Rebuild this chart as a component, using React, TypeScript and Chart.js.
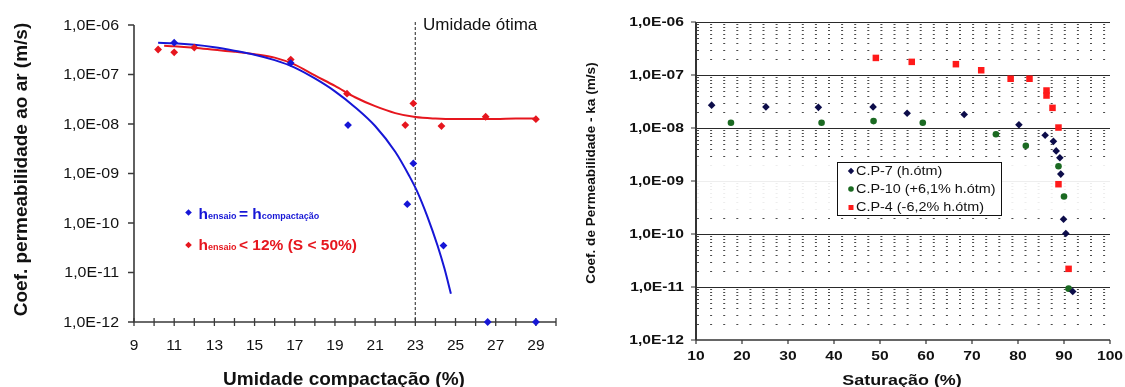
import React, { useEffect, useRef } from 'react';
import { Chart, registerables } from 'chart.js';

Chart.register(...registerables);

const FONT = '"Liberation Sans", Arial, Helvetica, sans-serif';

// ---------- Left panel: k vs. Umidade compactação ----------
const leftBlueX = [11, 16.8, 19.65, 22.9, 22.6, 24.4, 26.6, 29];
const leftBlueK = [4.4e-7, 1.7e-7, 9.5e-9, 1.6e-9, 2.4e-10, 3.5e-11, 1e-12, 1e-12];
const leftRedX = [10.2, 11, 12, 16.8, 19.6, 22.5, 22.9, 24.3, 26.5, 29];
const leftRedK = [3.2e-7, 2.8e-7, 3.5e-7, 2.0e-7, 4.1e-8, 9.5e-9, 2.6e-8, 9.1e-9, 1.4e-8, 1.25e-8];
const blueFitX = [10.2, 11, 12, 13, 14, 15, 16, 17, 18, 19, 20, 21, 22, 22.7, 23.1, 23.6, 24.1, 24.45, 24.77];
const blueFitK = [4.37e-7, 4.27e-7, 3.98e-7, 3.55e-7, 3.02e-7, 2.51e-7, 1.95e-7, 1.38e-7, 8.32e-8, 4.57e-8, 2.19e-8, 9.12e-9, 2.75e-9, 8.91e-10, 4.27e-10, 1.35e-10, 3.55e-11, 1.2e-11, 3.72e-12];
const redFitX = [10.5, 11, 12, 13, 14, 15, 16, 17, 18, 19, 20, 21, 22, 23, 24, 25, 26, 27, 28, 29];
const redFitK = [3.8e-7, 3.72e-7, 3.47e-7, 3.16e-7, 2.88e-7, 2.57e-7, 2.19e-7, 1.58e-7, 9.55e-8, 5.89e-8, 3.47e-8, 2.29e-8, 1.66e-8, 1.38e-8, 1.29e-8, 1.26e-8, 1.26e-8, 1.26e-8, 1.29e-8, 1.29e-8];
const leftXTicks = [9, 11, 13, 15, 17, 19, 21, 23, 25, 27, 29];
const leftXMinorTicks = [9, 10, 11, 12, 13, 14, 15, 16, 17, 18, 19, 20, 21, 22, 23, 24, 25, 26, 27, 28, 29, 30];
const optimumMoisture = 23;
const optimumLabel = 'Umidade ótima';
const leftXTitle = 'Umidade compactação (%)';
const leftYTitle = 'Coef. permeabilidade ao ar (m/s)';

// ---------- Shared y ticks ----------
const yDecades = [1e-12, 1e-11, 1e-10, 1e-9, 1e-8, 1e-7, 1e-6];
const yTickLabels = ['1,0E-12', '1,0E-11', '1,0E-10', '1,0E-09', '1,0E-08', '1,0E-07', '1,0E-06'];
const minorMultipliers = [2, 3, 4, 5, 6, 7, 8, 9];

// ---------- Right panel: k vs. Saturação ----------
const cp7X = [13.4, 25.2, 36.6, 48.5, 55.9, 68.3, 80.2, 85.9, 87.7, 88.3, 89.1, 89.3, 89.9, 90.4, 91.9];
const cp7K = [2.7e-8, 2.5e-8, 2.45e-8, 2.5e-8, 1.9e-8, 1.8e-8, 1.15e-8, 7.3e-9, 5.6e-9, 3.7e-9, 2.75e-9, 1.35e-9, 1.9e-10, 1.02e-10, 8.2e-12];
const cp10X = [17.6, 37.3, 48.6, 59.3, 75.2, 81.7, 88.8, 90.0, 91.0];
const cp10K = [1.26e-8, 1.26e-8, 1.35e-8, 1.26e-8, 7.6e-9, 4.6e-9, 1.9e-9, 5.1e-10, 9.3e-12];
const cp4X = [49.1, 56.9, 66.5, 72.0, 78.4, 82.5, 86.2, 86.2, 87.5, 88.8, 88.8, 91.0];
const cp4K = [2.1e-7, 1.77e-7, 1.6e-7, 1.23e-7, 8.5e-8, 8.5e-8, 5.1e-8, 4.1e-8, 2.4e-8, 1.02e-8, 8.7e-10, 2.2e-11];
const rightXTicks = [10, 20, 30, 40, 50, 60, 70, 80, 90, 100];
const rightSeriesLabels = ['C.P-7 (h.ótm)', 'C.P-10 (+6,1% h.ótm)', 'C.P-4 (-6,2% h.ótm)'];
const rightXTitle = 'Saturação (%)';
const rightYTitle = 'Coef. de Permeabilidade - ka (m/s)';

const BLUE = '#1616d6';
const RED = '#e6161e';
const NAVY = '#0d0d4a';
const GREEN = '#1b6a22';
const SQRED = '#ff1a1a';

const toXY = (xs: number[], ys: number[]) => xs.map((x, i) => ({ x, y: ys[i] }));

function drawText(ctx: CanvasRenderingContext2D, s: string, x: number, y: number, font: string, color: string,
  align: CanvasTextAlign, baseline: CanvasTextBaseline, sx = 1) {
  ctx.save();
  ctx.font = font;
  ctx.fillStyle = color;
  ctx.textAlign = align;
  ctx.textBaseline = baseline;
  ctx.translate(x, y);
  ctx.scale(sx, 1);
  ctx.fillText(s, 0, 0);
  ctx.restore();
}

function drawRotated(ctx: CanvasRenderingContext2D, s: string, cx: number, cy: number, font: string, color: string) {
  ctx.save();
  ctx.translate(cx, cy);
  ctx.rotate(-Math.PI / 2);
  ctx.font = font;
  ctx.fillStyle = color;
  ctx.textAlign = 'center';
  ctx.textBaseline = 'middle';
  ctx.fillText(s, 0, 0);
  ctx.restore();
}

type Run = { t: string; font: string; dy?: number };
function drawRuns(ctx: CanvasRenderingContext2D, runs: Run[], x: number, baseline: number, color: string) {
  ctx.save();
  let cx = x;
  ctx.fillStyle = color;
  ctx.textAlign = 'left';
  ctx.textBaseline = 'alphabetic';
  for (const r of runs) {
    ctx.font = r.font;
    ctx.fillText(r.t, cx, baseline + (r.dy || 0));
    cx += ctx.measureText(r.t).width;
  }
  ctx.restore();
}

function diamond(ctx: CanvasRenderingContext2D, x: number, y: number, r: number, color: string) {
  ctx.save();
  ctx.fillStyle = color;
  ctx.beginPath();
  ctx.moveTo(x, y - r);
  ctx.lineTo(x + r, y);
  ctx.lineTo(x, y + r);
  ctx.lineTo(x - r, y);
  ctx.closePath();
  ctx.fill();
  ctx.restore();
}

const leftDecor = {
  id: 'leftDecor',
  beforeDatasetsDraw(chart: any) {
    const ctx: CanvasRenderingContext2D = chart.ctx;
    const xs = chart.scales.x;
    const ys = chart.scales.y;
    const a = chart.chartArea;
    ctx.save();
    const xo = xs.getPixelForValue(optimumMoisture);
    ctx.strokeStyle = '#555';
    ctx.lineWidth = 1.3;
    ctx.setLineDash([3, 2]);
    ctx.beginPath();
    ctx.moveTo(xo, a.top - 3);
    ctx.lineTo(xo, a.bottom);
    ctx.stroke();
    ctx.setLineDash([]);
    ctx.strokeStyle = '#3a3a3a';
    ctx.lineWidth = 1.6;
    ctx.beginPath();
    ctx.moveTo(a.left, a.top);
    ctx.lineTo(a.left, a.bottom);
    ctx.lineTo(a.right, a.bottom);
    ctx.stroke();
    ctx.lineWidth = 1.3;
    ctx.beginPath();
    for (const v of yDecades) {
      const py = ys.getPixelForValue(v);
      ctx.moveTo(a.left - 6, py);
      ctx.lineTo(a.left, py);
    }
    for (const v of leftXMinorTicks) {
      const px = xs.getPixelForValue(v);
      ctx.moveTo(px, a.bottom - 4);
      ctx.lineTo(px, a.bottom + 4);
    }
    ctx.stroke();
    ctx.restore();
  },
  afterDraw(chart: any) {
    const ctx: CanvasRenderingContext2D = chart.ctx;
    const xs = chart.scales.x;
    const ys = chart.scales.y;
    yDecades.forEach((v, i) => {
      drawText(ctx, yTickLabels[i], 119, ys.getPixelForValue(v) + 0.5, `14.5px ${FONT}`, '#111', 'right', 'middle', 1.1);
    });
    leftXTicks.forEach((v) => {
      drawText(ctx, String(v), xs.getPixelForValue(v), 346, `15.5px ${FONT}`, '#111', 'center', 'middle');
    });
    drawRotated(ctx, leftYTitle, 22, 169.5, `bold 19px ${FONT}`, '#111');
    drawText(ctx, leftXTitle, 344, 385, `bold 19px ${FONT}`, '#111', 'center', 'alphabetic');
    drawText(ctx, optimumLabel, 423, 30, `17px ${FONT}`, '#111', 'left', 'alphabetic');
    const B = `bold 15.5px ${FONT}`;
    const S = `bold 9px ${FONT}`;
    diamond(ctx, 188.5, 212.5, 3.3, BLUE);
    drawRuns(ctx, [{ t: 'h', font: B }, { t: 'ensaio ', font: S }, { t: '= h', font: B }, { t: 'compactação', font: S }], 198.5, 219, BLUE);
    diamond(ctx, 188.5, 245, 3.3, RED);
    drawRuns(ctx, [{ t: 'h', font: B }, { t: 'ensaio ', font: S }, { t: '< 12% (S < 50%)', font: B }], 198.5, 250, RED);
  },
};

const rightDecor = {
  id: 'rightDecor',
  beforeDatasetsDraw(chart: any) {
    const ctx: CanvasRenderingContext2D = chart.ctx;
    const xs = chart.scales.x;
    const ys = chart.scales.y;
    const a = chart.chartArea;
    ctx.save();
    ctx.lineWidth = 1.2;
    for (let i = 0; i < yDecades.length - 1; i++) {
      for (const m of minorMultipliers) {
        const v = m * yDecades[i];
        const py = Math.round(ys.getPixelForValue(v)) + 0.5;
        const faint = v > 2.5e-10 && v < 2.5e-9;
        ctx.strokeStyle = faint ? '#ededed' : '#4a4a4a';
        ctx.setLineDash([2, 11.1]);
        ctx.lineDashOffset = 0;
        ctx.beginPath();
        ctx.moveTo(a.left + 1, py);
        ctx.lineTo(a.right, py);
        ctx.stroke();
      }
    }
    ctx.setLineDash([]);
    ctx.lineWidth = 1;
    for (const v of yDecades) {
      if (v === yDecades[0]) continue;
      const py = Math.round(ys.getPixelForValue(v)) + 0.5;
      const faint = v > 2.5e-10 && v < 2.5e-9;
      ctx.strokeStyle = faint ? '#eeeeee' : '#2a2a2a';
      ctx.beginPath();
      ctx.moveTo(a.left, py);
      ctx.lineTo(a.right, py);
      ctx.stroke();
    }
    ctx.strokeStyle = '#333';
    ctx.lineWidth = 2;
    ctx.beginPath();
    ctx.moveTo(a.left, a.top);
    ctx.lineTo(a.left, a.bottom);
    ctx.stroke();
    ctx.lineWidth = 1.5;
    ctx.beginPath();
    ctx.moveTo(a.left, a.bottom);
    ctx.lineTo(a.right, a.bottom);
    ctx.stroke();
    ctx.lineWidth = 1.2;
    ctx.beginPath();
    for (const v of yDecades) {
      const py = ys.getPixelForValue(v);
      ctx.moveTo(a.left - 5, py);
      ctx.lineTo(a.left, py);
    }
    for (const v of rightXTicks) {
      const px = xs.getPixelForValue(v);
      ctx.moveTo(px, a.bottom);
      ctx.lineTo(px, a.bottom + 4);
    }
    ctx.stroke();
    ctx.restore();
  },
  afterDraw(chart: any) {
    const ctx: CanvasRenderingContext2D = chart.ctx;
    const xs = chart.scales.x;
    const ys = chart.scales.y;
    yDecades.forEach((v, i) => {
      drawText(ctx, yTickLabels[i], 114, ys.getPixelForValue(v) + 0.5, `bold 12.5px ${FONT}`, '#111', 'right', 'middle', 1.25);
    });
    rightXTicks.forEach((v) => {
      drawText(ctx, String(v), xs.getPixelForValue(v), 357, `bold 12.5px ${FONT}`, '#111', 'center', 'middle', 1.25);
    });
    drawRotated(ctx, rightYTitle, 21, 173, `bold 13.6px ${FONT}`, '#111');
    drawText(ctx, rightXTitle, 332, 385, `bold 14px ${FONT}`, '#111', 'center', 'alphabetic', 1.28);
    ctx.save();
    ctx.fillStyle = '#fff';
    ctx.fillRect(267, 162, 164, 53);
    ctx.strokeStyle = '#111';
    ctx.lineWidth = 1;
    ctx.strokeRect(267.5, 162.5, 164, 53);
    ctx.restore();
    const rows = [171, 189, 207.5];
    diamond(ctx, 281, rows[0], 3.2, NAVY);
    ctx.save();
    ctx.fillStyle = GREEN;
    ctx.beginPath();
    ctx.arc(281, rows[1], 2.8, 0, Math.PI * 2);
    ctx.fill();
    ctx.fillStyle = SQRED;
    ctx.fillRect(278.5, rows[2] - 2.5, 5, 5);
    ctx.restore();
    rightSeriesLabels.forEach((s, i) => {
      drawText(ctx, s, 286, rows[i] + 0.5, `12px ${FONT}`, '#111', 'left', 'middle', 1.2);
    });
  },
};

export default function App() {
  const leftRef = useRef<HTMLCanvasElement | null>(null);
  const rightRef = useRef<HTMLCanvasElement | null>(null);

  useEffect(() => {
    const left = new Chart(leftRef.current as HTMLCanvasElement, {
      type: 'line',
      data: {
        datasets: [
          {
            label: 'hensaio = hcompactação',
            data: toXY(leftBlueX, leftBlueK),
            showLine: false,
            pointStyle: 'rectRot',
            pointRadius: 3.9,
            pointBackgroundColor: BLUE,
            pointBorderColor: BLUE,
            pointBorderWidth: 0,
            borderColor: BLUE,
            order: 0,
            clip: false,
          },
          {
            label: 'hensaio < 12% (S < 50%)',
            data: toXY(leftRedX, leftRedK),
            showLine: false,
            pointStyle: 'rectRot',
            pointRadius: 3.9,
            pointBackgroundColor: RED,
            pointBorderColor: RED,
            pointBorderWidth: 0,
            borderColor: RED,
            order: 0,
            clip: false,
          },
          {
            label: 'ajuste azul',
            data: toXY(blueFitX, blueFitK),
            showLine: true,
            pointRadius: 0,
            borderColor: BLUE,
            borderWidth: 2,
            cubicInterpolationMode: 'monotone',
            fill: false,
            order: 1,
          },
          {
            label: 'ajuste vermelho',
            data: toXY(redFitX, redFitK),
            showLine: true,
            pointRadius: 0,
            borderColor: RED,
            borderWidth: 2,
            cubicInterpolationMode: 'monotone',
            fill: false,
            order: 1,
          },
        ],
      } as any,
      options: {
        responsive: false,
        animation: false,
        devicePixelRatio: 1,
        layout: { padding: { left: 0, top: 25, right: 14, bottom: 0 } },
        plugins: { legend: { display: false }, tooltip: { enabled: false }, title: { display: false } },
        scales: {
          x: {
            type: 'linear',
            min: 9,
            max: 30,
            grid: { display: false, drawTicks: false },
            border: { display: false },
            ticks: { display: false, stepSize: 1 },
            afterFit: (s: any) => { s.height = 65; s.paddingLeft = 0; s.paddingRight = 0; },
          },
          y: {
            type: 'logarithmic',
            min: 1e-12,
            max: 1e-6,
            grid: { display: false, drawTicks: false },
            border: { display: false },
            ticks: { display: false },
            afterFit: (s: any) => { s.width = 134; s.paddingTop = 0; s.paddingBottom = 0; },
          },
        },
      } as any,
      plugins: [leftDecor],
    });

    const right = new Chart(rightRef.current as HTMLCanvasElement, {
      type: 'line',
      data: {
        datasets: [
          {
            label: rightSeriesLabels[0],
            data: toXY(cp7X, cp7K),
            showLine: false,
            pointStyle: 'rectRot',
            pointRadius: 3.8,
            pointBackgroundColor: NAVY,
            pointBorderColor: NAVY,
            pointBorderWidth: 0,
            clip: false,
          },
          {
            label: rightSeriesLabels[1],
            data: toXY(cp10X, cp10K),
            showLine: false,
            pointStyle: 'circle',
            pointRadius: 3.3,
            pointBackgroundColor: GREEN,
            pointBorderColor: GREEN,
            pointBorderWidth: 0,
            clip: false,
          },
          {
            label: rightSeriesLabels[2],
            data: toXY(cp4X, cp4K),
            showLine: false,
            pointStyle: 'rect',
            pointRadius: 4.6,
            pointBackgroundColor: SQRED,
            pointBorderColor: SQRED,
            pointBorderWidth: 0,
            clip: false,
          },
        ],
      } as any,
      options: {
        responsive: false,
        animation: false,
        devicePixelRatio: 1,
        layout: { padding: { left: 0, top: 22, right: 15, bottom: 0 } },
        plugins: { legend: { display: false }, tooltip: { enabled: false }, title: { display: false } },
        scales: {
          x: {
            type: 'linear',
            min: 10,
            max: 100,
            grid: { display: false, drawTicks: false },
            border: { display: false },
            ticks: { display: false, stepSize: 10 },
            afterFit: (s: any) => { s.height = 47; s.paddingLeft = 0; s.paddingRight = 0; },
          },
          y: {
            type: 'logarithmic',
            min: 1e-12,
            max: 1e-6,
            grid: { display: false, drawTicks: false },
            border: { display: false },
            ticks: { display: false },
            afterFit: (s: any) => { s.width = 126; s.paddingTop = 0; s.paddingBottom = 0; },
          },
        },
      } as any,
      plugins: [rightDecor],
    });

    return () => {
      left.destroy();
      right.destroy();
    };
  }, []);

  return (
    <div style={{ position: 'fixed', left: 0, top: 0, width: 1125, height: 387, background: '#fff' }}>
      <canvas ref={leftRef} width={570} height={387} style={{ position: 'absolute', left: 0, top: 0 }} />
      <canvas ref={rightRef} width={555} height={387} style={{ position: 'absolute', left: 570, top: 0 }} />
    </div>
  );
}
